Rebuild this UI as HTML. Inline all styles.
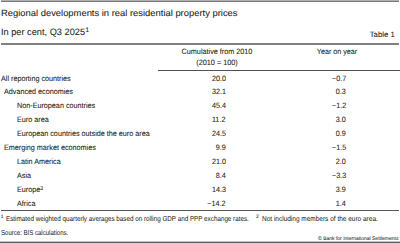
<!DOCTYPE html>
<html><head><meta charset="utf-8"><style>
html,body{margin:0;padding:0;background:#fff;}
body{width:400px;height:243px;position:relative;overflow:hidden;font-family:"Liberation Sans", sans-serif;}
.t{position:absolute;white-space:nowrap;font-family:"Liberation Sans", sans-serif;}
.l{position:absolute;}
sup{font-size:60%;vertical-align:0;position:relative;top:-0.45em;line-height:0;}
</style></head><body>
<div class="l" style="left:1px;width:398px;top:0px;height:1px;background:#b0b0b0"></div>
<div class="l" style="left:1px;width:398px;top:1px;height:1px;background:#787878"></div>
<div class="l" style="left:1px;width:398px;top:43px;height:1px;background:#808080"></div>
<div class="l" style="left:1px;width:398px;top:44px;height:1px;background:#808080"></div>
<div class="l" style="left:158px;width:242px;top:70px;height:1px;background:#505050"></div>
<div class="l" style="left:1px;width:398px;top:210px;height:1px;background:#555555"></div>
<div class="l" style="left:0px;width:400px;top:241px;height:1px;background:#c4c4c4"></div>
<div class="l" style="left:0px;width:400px;top:242px;height:1px;background:#5c5c5c"></div>
<div class="t" style="left:0.60px;top:8.90px;font-size:8.9px;line-height:8.9px;letter-spacing:0px;color:#231f20;transform:scale(1.0584,1.0);transform-origin:0 7.00px;-webkit-text-stroke:0.08px #231f20;text-rendering:geometricPrecision;">Regional developments in real residential property prices</div>
<div class="t" style="left:0.60px;top:28.20px;font-size:9.2px;line-height:9.2px;letter-spacing:0px;color:#231f20;transform:scale(1.003,1.0);transform-origin:0 7.00px;-webkit-text-stroke:0.08px #231f20;text-rendering:geometricPrecision;">In per cent, Q3 2025</div>
<div class="t" style="left:85.40px;top:27.60px;font-size:6.4px;line-height:6.4px;letter-spacing:0px;color:#231f20;-webkit-text-stroke:0.08px #231f20;text-rendering:geometricPrecision;">1</div>
<div class="t" style="right:5.20px;top:30.80px;font-size:7.7px;line-height:7.7px;letter-spacing:0px;color:#231f20;transform:scale(1.0113,1.0);transform-origin:100% 6.00px;-webkit-text-stroke:0.08px #231f20;text-rendering:geometricPrecision;">Table 1</div>
<div class="t" style="left:16.50px;width:400px;text-align:center;top:48.20px;font-size:7.7px;line-height:7.7px;letter-spacing:0px;color:#231f20;transform:scale(0.9415,1.0);transform-origin:50% 6.00px;-webkit-text-stroke:0.08px #231f20;text-rendering:geometricPrecision;">Cumulative from 2010</div>
<div class="t" style="left:16.50px;width:400px;text-align:center;top:59.20px;font-size:7.7px;line-height:7.7px;letter-spacing:0px;color:#231f20;transform:scale(0.9474,1.0);transform-origin:50% 6.00px;-webkit-text-stroke:0.08px #231f20;text-rendering:geometricPrecision;">(2010 = 100)</div>
<div class="t" style="left:137.00px;width:400px;text-align:center;top:48.20px;font-size:7.7px;line-height:7.7px;letter-spacing:0px;color:#231f20;transform:scale(0.9295,1.0);transform-origin:50% 6.00px;-webkit-text-stroke:0.08px #231f20;text-rendering:geometricPrecision;">Year on year</div>
<div class="t" style="left:1.00px;top:74.50px;font-size:7.7px;line-height:7.7px;letter-spacing:0px;color:#231f20;transform:scale(0.9378,1.0);transform-origin:0 6.00px;-webkit-text-stroke:0.08px #231f20;text-rendering:geometricPrecision;">All reporting countries</div>
<div class="t" style="right:174.20px;top:74.50px;font-size:7.7px;line-height:7.7px;letter-spacing:0px;color:#231f20;transform:scale(0.9378,1.0);transform-origin:100% 6.00px;-webkit-text-stroke:0.08px #231f20;text-rendering:geometricPrecision;">20.0</div>
<div class="t" style="right:54.20px;top:74.50px;font-size:7.7px;line-height:7.7px;letter-spacing:0px;color:#231f20;transform:scale(0.9378,1.0);transform-origin:100% 6.00px;-webkit-text-stroke:0.08px #231f20;text-rendering:geometricPrecision;">&minus;0.7</div>
<div class="t" style="left:4.00px;top:88.45px;font-size:7.7px;line-height:7.7px;letter-spacing:0px;color:#231f20;transform:scale(0.9378,1.0);transform-origin:0 6.00px;-webkit-text-stroke:0.08px #231f20;text-rendering:geometricPrecision;">Advanced economies</div>
<div class="t" style="right:174.20px;top:88.45px;font-size:7.7px;line-height:7.7px;letter-spacing:0px;color:#231f20;transform:scale(0.9378,1.0);transform-origin:100% 6.00px;-webkit-text-stroke:0.08px #231f20;text-rendering:geometricPrecision;">32.1</div>
<div class="t" style="right:54.20px;top:88.45px;font-size:7.7px;line-height:7.7px;letter-spacing:0px;color:#231f20;transform:scale(0.9378,1.0);transform-origin:100% 6.00px;-webkit-text-stroke:0.08px #231f20;text-rendering:geometricPrecision;">0.3</div>
<div class="t" style="left:17.20px;top:102.40px;font-size:7.7px;line-height:7.7px;letter-spacing:0px;color:#231f20;transform:scale(0.9378,1.0);transform-origin:0 6.00px;-webkit-text-stroke:0.08px #231f20;text-rendering:geometricPrecision;">Non-European countries</div>
<div class="t" style="right:174.20px;top:102.40px;font-size:7.7px;line-height:7.7px;letter-spacing:0px;color:#231f20;transform:scale(0.9378,1.0);transform-origin:100% 6.00px;-webkit-text-stroke:0.08px #231f20;text-rendering:geometricPrecision;">45.4</div>
<div class="t" style="right:54.20px;top:102.40px;font-size:7.7px;line-height:7.7px;letter-spacing:0px;color:#231f20;transform:scale(0.9378,1.0);transform-origin:100% 6.00px;-webkit-text-stroke:0.08px #231f20;text-rendering:geometricPrecision;">&minus;1.2</div>
<div class="t" style="left:17.20px;top:116.35px;font-size:7.7px;line-height:7.7px;letter-spacing:0px;color:#231f20;transform:scale(0.9378,1.0);transform-origin:0 6.00px;-webkit-text-stroke:0.08px #231f20;text-rendering:geometricPrecision;">Euro area</div>
<div class="t" style="right:174.20px;top:116.35px;font-size:7.7px;line-height:7.7px;letter-spacing:0px;color:#231f20;transform:scale(0.9378,1.0);transform-origin:100% 6.00px;-webkit-text-stroke:0.08px #231f20;text-rendering:geometricPrecision;">11.2</div>
<div class="t" style="right:54.20px;top:116.35px;font-size:7.7px;line-height:7.7px;letter-spacing:0px;color:#231f20;transform:scale(0.9378,1.0);transform-origin:100% 6.00px;-webkit-text-stroke:0.08px #231f20;text-rendering:geometricPrecision;">3.0</div>
<div class="t" style="left:17.20px;top:130.30px;font-size:7.7px;line-height:7.7px;letter-spacing:0px;color:#231f20;transform:scale(0.9378,1.0);transform-origin:0 6.00px;-webkit-text-stroke:0.08px #231f20;text-rendering:geometricPrecision;">European countries outside the euro area</div>
<div class="t" style="right:174.20px;top:130.30px;font-size:7.7px;line-height:7.7px;letter-spacing:0px;color:#231f20;transform:scale(0.9378,1.0);transform-origin:100% 6.00px;-webkit-text-stroke:0.08px #231f20;text-rendering:geometricPrecision;">24.5</div>
<div class="t" style="right:54.20px;top:130.30px;font-size:7.7px;line-height:7.7px;letter-spacing:0px;color:#231f20;transform:scale(0.9378,1.0);transform-origin:100% 6.00px;-webkit-text-stroke:0.08px #231f20;text-rendering:geometricPrecision;">0.9</div>
<div class="t" style="left:4.00px;top:144.25px;font-size:7.7px;line-height:7.7px;letter-spacing:0px;color:#231f20;transform:scale(0.9378,1.0);transform-origin:0 6.00px;-webkit-text-stroke:0.08px #231f20;text-rendering:geometricPrecision;">Emerging market economies</div>
<div class="t" style="right:174.20px;top:144.25px;font-size:7.7px;line-height:7.7px;letter-spacing:0px;color:#231f20;transform:scale(0.9378,1.0);transform-origin:100% 6.00px;-webkit-text-stroke:0.08px #231f20;text-rendering:geometricPrecision;">9.9</div>
<div class="t" style="right:54.20px;top:144.25px;font-size:7.7px;line-height:7.7px;letter-spacing:0px;color:#231f20;transform:scale(0.9378,1.0);transform-origin:100% 6.00px;-webkit-text-stroke:0.08px #231f20;text-rendering:geometricPrecision;">&minus;1.5</div>
<div class="t" style="left:17.20px;top:158.20px;font-size:7.7px;line-height:7.7px;letter-spacing:0px;color:#231f20;transform:scale(0.9378,1.0);transform-origin:0 6.00px;-webkit-text-stroke:0.08px #231f20;text-rendering:geometricPrecision;">Latin America</div>
<div class="t" style="right:174.20px;top:158.20px;font-size:7.7px;line-height:7.7px;letter-spacing:0px;color:#231f20;transform:scale(0.9378,1.0);transform-origin:100% 6.00px;-webkit-text-stroke:0.08px #231f20;text-rendering:geometricPrecision;">21.0</div>
<div class="t" style="right:54.20px;top:158.20px;font-size:7.7px;line-height:7.7px;letter-spacing:0px;color:#231f20;transform:scale(0.9378,1.0);transform-origin:100% 6.00px;-webkit-text-stroke:0.08px #231f20;text-rendering:geometricPrecision;">2.0</div>
<div class="t" style="left:17.20px;top:172.15px;font-size:7.7px;line-height:7.7px;letter-spacing:0px;color:#231f20;transform:scale(0.9378,1.0);transform-origin:0 6.00px;-webkit-text-stroke:0.08px #231f20;text-rendering:geometricPrecision;">Asia</div>
<div class="t" style="right:174.20px;top:172.15px;font-size:7.7px;line-height:7.7px;letter-spacing:0px;color:#231f20;transform:scale(0.9378,1.0);transform-origin:100% 6.00px;-webkit-text-stroke:0.08px #231f20;text-rendering:geometricPrecision;">8.4</div>
<div class="t" style="right:54.20px;top:172.15px;font-size:7.7px;line-height:7.7px;letter-spacing:0px;color:#231f20;transform:scale(0.9378,1.0);transform-origin:100% 6.00px;-webkit-text-stroke:0.08px #231f20;text-rendering:geometricPrecision;">&minus;3.3</div>
<div class="t" style="left:17.20px;top:186.10px;font-size:7.7px;line-height:7.7px;letter-spacing:0px;color:#231f20;transform:scale(0.9378,1.0);transform-origin:0 6.00px;-webkit-text-stroke:0.08px #231f20;text-rendering:geometricPrecision;">Europe</div>
<div class="t" style="right:174.20px;top:186.10px;font-size:7.7px;line-height:7.7px;letter-spacing:0px;color:#231f20;transform:scale(0.9378,1.0);transform-origin:100% 6.00px;-webkit-text-stroke:0.08px #231f20;text-rendering:geometricPrecision;">14.3</div>
<div class="t" style="right:54.20px;top:186.10px;font-size:7.7px;line-height:7.7px;letter-spacing:0px;color:#231f20;transform:scale(0.9378,1.0);transform-origin:100% 6.00px;-webkit-text-stroke:0.08px #231f20;text-rendering:geometricPrecision;">3.9</div>
<div class="t" style="left:17.20px;top:200.05px;font-size:7.7px;line-height:7.7px;letter-spacing:0px;color:#231f20;transform:scale(0.9378,1.0);transform-origin:0 6.00px;-webkit-text-stroke:0.08px #231f20;text-rendering:geometricPrecision;">Africa</div>
<div class="t" style="right:174.20px;top:200.05px;font-size:7.7px;line-height:7.7px;letter-spacing:0px;color:#231f20;transform:scale(0.9378,1.0);transform-origin:100% 6.00px;-webkit-text-stroke:0.08px #231f20;text-rendering:geometricPrecision;">&minus;14.2</div>
<div class="t" style="right:54.20px;top:200.05px;font-size:7.7px;line-height:7.7px;letter-spacing:0px;color:#231f20;transform:scale(0.9378,1.0);transform-origin:100% 6.00px;-webkit-text-stroke:0.08px #231f20;text-rendering:geometricPrecision;">1.4</div>
<div class="t" style="left:40.30px;top:186.80px;font-size:5.3px;line-height:5.3px;letter-spacing:0px;color:#231f20;-webkit-text-stroke:0.08px #231f20;text-rendering:geometricPrecision;">2</div>
<div class="t" style="left:0.80px;top:215.60px;font-size:4.9px;line-height:4.9px;letter-spacing:0px;color:#231f20;-webkit-text-stroke:0.08px #231f20;text-rendering:geometricPrecision;">1</div>
<div class="t" style="left:6.40px;top:215.80px;font-size:7.1px;line-height:7.1px;letter-spacing:0px;color:#231f20;transform:scale(0.8856,1.0);transform-origin:0 5.00px;-webkit-text-stroke:0.04px #231f20;text-rendering:geometricPrecision;">Estimated weighted quarterly averages based on rolling GDP and PPP exchange rates.</div>
<div class="t" style="left:256.00px;top:215.60px;font-size:4.9px;line-height:4.9px;letter-spacing:0px;color:#231f20;-webkit-text-stroke:0.08px #231f20;text-rendering:geometricPrecision;">2</div>
<div class="t" style="left:262.00px;top:215.80px;font-size:7.1px;line-height:7.1px;letter-spacing:0px;color:#231f20;transform:scale(0.9148,1.0);transform-origin:0 5.00px;-webkit-text-stroke:0.04px #231f20;text-rendering:geometricPrecision;">Not including members of the euro area.</div>
<div class="t" style="left:0.80px;top:229.50px;font-size:7.1px;line-height:7.1px;letter-spacing:0px;color:#231f20;transform:scale(0.852,1.0);transform-origin:0 5.00px;-webkit-text-stroke:0.04px #231f20;text-rendering:geometricPrecision;">Source: BIS calculations.</div>
<div class="t" style="right:1.10px;top:237.10px;font-size:5.2px;line-height:5.2px;letter-spacing:0px;color:#231f20;transform:scale(0.9633,1.0);transform-origin:100% 3.00px;-webkit-text-stroke:0.04px #231f20;text-rendering:geometricPrecision;">&copy; Bank for International Settlements</div>
</body></html>
